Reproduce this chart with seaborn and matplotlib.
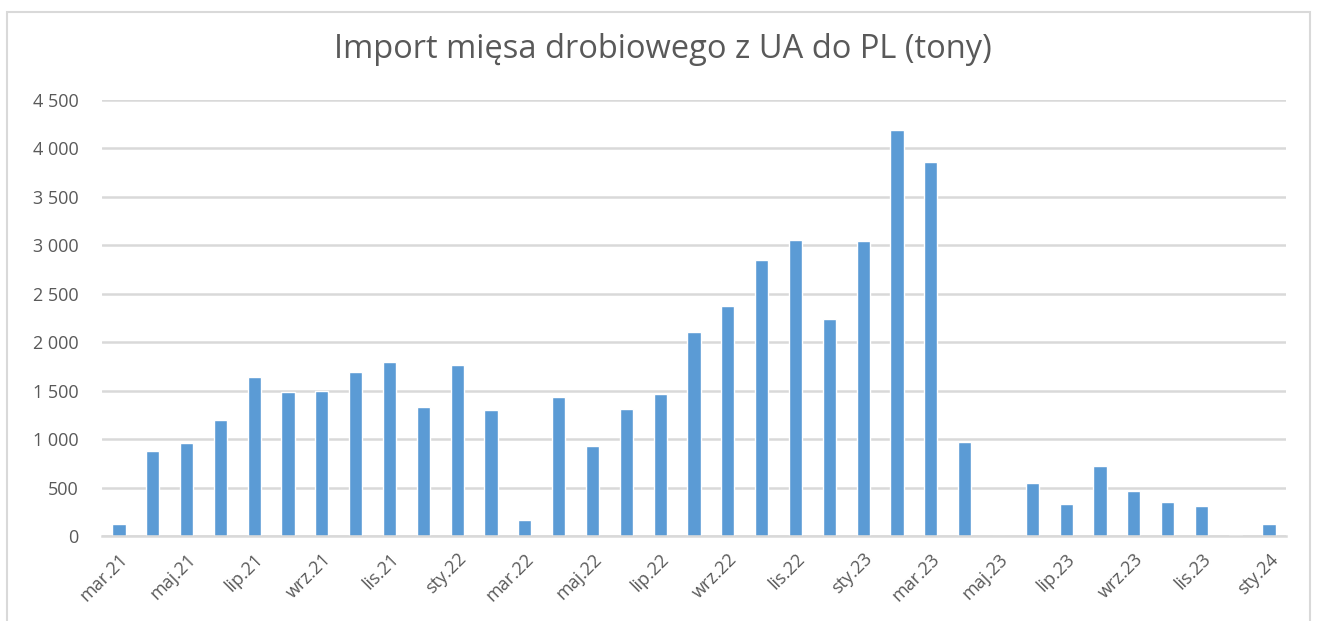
import pandas as pd
import matplotlib
matplotlib.use("Agg")
import matplotlib.pyplot as plt
import matplotlib.ticker as mticker
from matplotlib.patches import Rectangle
import seaborn as sns

miesiace = [
    "mar.21", "kwi.21", "maj.21", "cze.21", "lip.21", "sie.21", "wrz.21",
    "paź.21", "lis.21", "gru.21", "sty.22", "lut.22", "mar.22", "kwi.22",
    "maj.22", "cze.22", "lip.22", "sie.22", "wrz.22", "paź.22", "lis.22",
    "gru.22", "sty.23", "lut.23", "mar.23", "kwi.23", "maj.23", "cze.23",
    "lip.23", "sie.23", "wrz.23", "paź.23", "lis.23", "gru.23", "sty.24",
]
import_tony = [
    120, 880, 960, 1200, 1640, 1490, 1500, 1690, 1800, 1330, 1770, 1300,
    170, 1430, 925, 1310, 1465, 2110, 2375, 2850, 3060, 2240, 3045, 4190,
    3865, 975, 0, 545, 330, 720, 465, 355, 305, 15, 125,
]
y_ticks = [0, 500, 1000, 1500, 2000, 2500, 3000, 3500, 4000, 4500]

df = pd.DataFrame({"miesiac": miesiace, "tony": import_tony})

sns.set_style("white")
plt.rcParams["font.family"] = ["Open Sans", "DejaVu Sans"]

tekst = "#595959"
siatka = "#d9d9d9"

fig = plt.figure(figsize=(13.19, 6.21), dpi=100)
ax = fig.add_axes([102 / 1319, 1 - 536 / 621, 1184 / 1319, 436 / 621])

sns.barplot(data=df, x="miesiac", y="tony", order=miesiace, color="#5b9bd5",
            saturation=1, width=0.39, ax=ax, zorder=3)

ax.set_ylim(0, 4500)
ax.set_xlim(-0.5, len(miesiace) - 0.5)
ax.set_yticks(y_ticks)
ax.yaxis.set_major_formatter(
    mticker.FuncFormatter(lambda v, p: f"{int(v):,}".replace(",", " ")))
ax.grid(axis="y", color=siatka, linewidth=1.8, zorder=0)
ax.grid(axis="x", visible=False)

# etykiety co drugi miesiąc, znaczniki na granicach kategorii
ax.set_xticks(range(0, len(miesiace), 2))
ax.set_xticklabels(miesiace[::2], rotation=45, ha="right",
                   rotation_mode="anchor", color=tekst, fontsize=13)
ax.set_xticks([i - 0.5 for i in range(0, len(miesiace) + 1, 2)], minor=True)
ax.tick_params(axis="x", which="major", length=0, pad=10)
ax.tick_params(axis="x", which="minor", length=6, width=1.8, color=siatka)
ax.tick_params(axis="y", length=0, pad=17, labelcolor=tekst, labelsize=13)

for s in ["top", "right", "left"]:
    ax.spines[s].set_visible(False)
ax.spines["bottom"].set_color(siatka)
ax.spines["bottom"].set_linewidth(1.8)
ax.spines["bottom"].set_zorder(4)

ax.set_xlabel("")
ax.set_ylabel("")

fig.text(663 / 1319, 1 - 50 / 621, "Import mięsa drobiowego z UA do PL (tony)",
         ha="center", va="center", fontsize=23.5, color=tekst)

fig.patches.append(Rectangle((7 / 1319, -0.1), 1303 / 1319, 1.1 - 12 / 621,
                             transform=fig.transFigure, fill=False,
                             edgecolor=siatka, linewidth=1.5))

fig.savefig("out.png", dpi=100)
plt.close(fig)
